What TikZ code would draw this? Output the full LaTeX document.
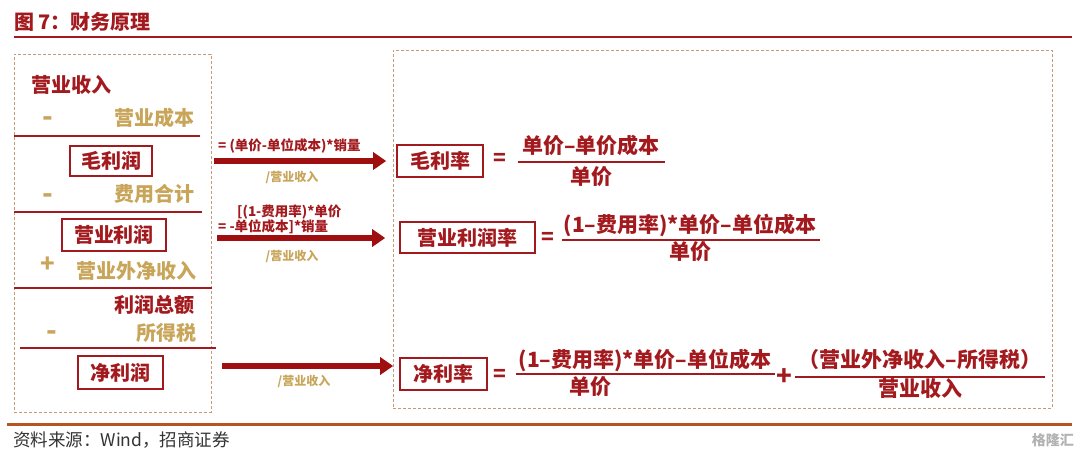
\documentclass[tikz,border=0pt]{standalone}
\usepackage{xcolor}
\usepackage{fontspec}
\usepackage{tikz}
\usetikzlibrary{arrows.meta,positioning}
\setmainfont{Noto Sans CJK SC}

\definecolor{zsred}{HTML}{A31A1E}
\definecolor{zsgold}{HTML}{C9A55A}
\definecolor{zsdash}{HTML}{C49A78}
\definecolor{zsarrow}{HTML}{A00F0F}
\definecolor{zsrule}{HTML}{B5561E}

\begin{document}
\begin{tikzpicture}[x=1pt,y=-1pt,
	redtxt/.style={text=zsred, font=\fontsize{20}{22}\selectfont\bfseries, inner sep=0pt},
	goldtxt/.style={text=zsgold, font=\fontsize{20}{22}\selectfont\bfseries, inner sep=0pt},
	goldsign/.style={text=zsgold, font=\fontsize{28}{30}\selectfont\bfseries, inner sep=0pt},
	fmtxt/.style={text=zsred, font=\fontsize{21}{23}\selectfont\bfseries, inner sep=0pt},
	smalltxt/.style={text=zsred, font=\fontsize{13.5}{15}\selectfont\bfseries, inner sep=0pt},
	goldsmall/.style={text=zsgold, font=\fontsize{12}{14}\selectfont\bfseries, inner sep=0pt},
	namebox/.style={draw=zsred, line width=1.6pt, fill=white, text=zsred,
		font=\fontsize{20}{22}\selectfont\bfseries, inner sep=0pt},
	panel/.style={draw=zsdash, dash pattern=on 3pt off 2pt, line width=0.8pt, inner sep=0pt},
	redrule/.style={draw=zsred, line width=1.6pt},
	fracbar/.style={draw=zsred, line width=1.2pt},
	bigarrow/.style={draw=zsarrow, line width=6.5pt, -{Triangle[length=13pt,width=17pt]}}]

\useasboundingbox[fill=white] (0,0) rectangle (1080,455);

% title and rules
\node[anchor=west, text=zsred, font=\fontsize{20}{22}\selectfont\bfseries, inner sep=0pt] (title) at (14,22) {图 7：财务原理};
\draw[draw=zsred, line width=2pt] (14,37) -- (1072,37);
\draw[draw=zsrule, line width=3pt] (7,424) -- (1072,424);
\node[anchor=west, text=black!80, font=\fontsize{17.5}{19}\selectfont, inner sep=0pt] (source) at (13,440) {资料来源：Wind，招商证券};
\node[anchor=east, text=black!30, font=\fontsize{14}{16}\selectfont\bfseries, inner sep=0pt] (mark) at (1074,440) {格隆汇};

% panels
\node[panel, minimum width=197, minimum height=358] (leftpanel) at (112.5,233) {};
\node[panel, minimum width=659, minimum height=358] (rightpanel) at (722.5,229) {};

% left panel
\node[redtxt] (rev) at (71,85) {营业收入};
\node[goldsign] (minus1) at (48,122) {-};
\node[goldtxt] (cost) at (154,118) {营业成本};
\node[namebox, minimum width=82, minimum height=30] (gp) at (111,161) {毛利润};
\node[goldsign] (minus2) at (48,199) {-};
\node[goldtxt] (exp) at (154,194) {费用合计};
\node[namebox, minimum width=104, minimum height=32] (op) at (114,235) {营业利润};
\node[goldsign, font=\fontsize{24}{26}\selectfont\bfseries] (plus1) at (48,265) {+};
\node[goldtxt] (nonop) at (136,271) {营业外净收入};
\node[redtxt] (tp) at (154,305) {利润总额};
\node[goldsign] (minus3) at (52,336) {-};
\node[goldtxt] (tax) at (166,333) {所得税};
\node[namebox, minimum width=85, minimum height=33] (np) at (120.5,372.5) {净利润};

\foreach \y/\a/\b in {136/14/200, 212/14/202, 288/14/212, 348/20/216}{
	\draw[redrule] (\a,\y) -- (\b,\y);
}

% right panel
\node[namebox, minimum width=86, minimum height=32] (gm) at (440,161) {毛利率};
\node[fmtxt] (eq1) at (500,159) {=};
\node[fmtxt] (gmnum) at (591,145) {单价–单价成本};
\node[fmtxt] (gmden) at (591,177) {单价};
\draw[fracbar] (518,162) -- (665,162);

\node[namebox, minimum width=135, minimum height=31] (om) at (467.5,237.5) {营业利润率};
\node[fmtxt] (eq2) at (548,238) {=};
\node[fmtxt] (omnum) at (690,225) {(1–费用率)*单价–单位成本};
\node[fmtxt] (omden) at (690,252) {单价};
\draw[fracbar] (562,240) -- (820,240);

\node[namebox, minimum width=87, minimum height=32] (nm) at (443.5,374) {净利率};
\node[fmtxt] (eq3) at (500,375) {=};
\node[fmtxt] (nmnum) at (645,360) {(1–费用率)*单价–单位成本};
\node[fmtxt] (nmden) at (590,387) {单价};
\draw[fracbar] (516,374) -- (775,374);
\node[fmtxt, font=\fontsize{26}{28}\selectfont\bfseries] (plus2) at (784,377) {+};
\node[fmtxt] (nonnum) at (920,360) {（营业外净收入–所得税）};
\node[fmtxt] (nonden) at (920,389) {营业收入};
\draw[fracbar] (795,377) -- (1045,377);

% arrows
\coordinate (a1) at (214,161);
\coordinate (a2) at (217,238);
\coordinate (a3) at (222,366);
\draw[bigarrow, shorten >=10pt] (a1) -- (a1 -| gm.west);
\draw[bigarrow, shorten >=14pt] (a2) -- (a2 -| om.west);
\draw[bigarrow, shorten >=6pt] (a3) -- (a3 -| nm.west);

\node[smalltxt, anchor=west] (lab1) at (218,146) {= (单价-单位成本)*销量};
\node[smalltxt, anchor=west] (lab2a) at (237,212) {[(1-费用率)*单价};
\node[smalltxt, anchor=west] (lab2b) at (218,227) {= -单位成本]*销量};
\foreach \x/\y/\n in {292/177/1, 292/256/2, 304/381/3}{
	\node[goldsmall] (per\n) at (\x,\y) {/营业收入};
}

\end{tikzpicture}
\end{document}
